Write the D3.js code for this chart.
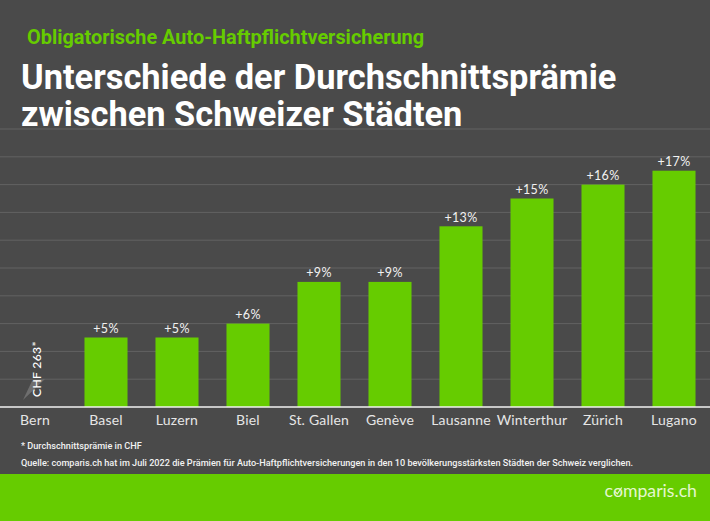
<!DOCTYPE html>
<html>
<head>
<meta charset="utf-8">
<script src="https://cdn.jsdelivr.net/npm/d3@7"></script>
<style>
  html, body { margin: 0; padding: 0; background: #4a4a4a; overflow: hidden; }
  svg { display: block; }
</style>
</head>
<body>
<script>
const cities = ["Bern", "Basel", "Luzern", "Biel", "St. Gallen", "Genève", "Lausanne", "Winterthur", "Zürich", "Lugano"];
const increases = [0, 5, 5, 6, 9, 9, 13, 15, 16, 17];
const barLabels = ["CHF 263*", "+5%", "+5%", "+6%", "+9%", "+9%", "+13%", "+15%", "+16%", "+17%"];
const gridValues = [2, 4, 6, 8, 10, 12, 14, 16, 18, 20];
const titleLines = ["Unterschiede der Durchschnittsprämie", "zwischen Schweizer Städten"];
const subtitle = "Obligatorische Auto-Haftpflichtversicherung";
const footnote = "* Durchschnittsprämie in CHF";
const source = "Quelle: comparis.ch hat im Juli 2022 die Prämien für Auto-Haftpflichtversicherungen in den 10 bevölkerungsstärksten Städten der Schweiz verglichen.";

const width = 710, height = 521;
const green = "#66cc00", bg = "#4a4a4a";
const labelFont = "Lato, sans-serif";

const svg = d3.select("body").append("svg")
    .attr("width", width)
    .attr("height", height);

svg.append("rect").attr("width", width).attr("height", height).attr("fill", bg);

const x = d3.scaleBand().domain(cities).range([-0.5, 709.5]).paddingInner(0.394).paddingOuter(0.197);
const y = d3.scaleLinear().domain([0, 20]).range([407, 129]);

// Grid lines
svg.append("g").selectAll("line")
    .data(gridValues)
    .join("line")
    .attr("x1", 0)
    .attr("x2", width)
    .attr("y1", d => y(d))
    .attr("y2", d => y(d))
    .attr("stroke", "#626262")
    .attr("stroke-width", 1);

// Bars
svg.append("g").selectAll("rect")
    .data(cities)
    .join("rect")
    .attr("x", d => x(d))
    .attr("y", (d, i) => y(increases[i]))
    .attr("width", x.bandwidth())
    .attr("height", (d, i) => y(0) - y(increases[i]))
    .attr("fill", green);

// Baseline
svg.append("line")
    .attr("x1", 0).attr("x2", width)
    .attr("y1", y(0)).attr("y2", y(0))
    .attr("stroke", "#f2f2f2")
    .attr("stroke-width", 1.5);

// Small grey marker behind the Bern label
const bernX = x("Bern") + x.bandwidth() / 2;
svg.append("path")
    .attr("d", `M${bernX - 12},${y(0) - 7} L${bernX - 3},${y(0) - 26} L${bernX + 10},${y(0) - 28} Z`)
    .attr("fill", "#6e6e6e");

// Value labels
svg.append("g").selectAll("text")
    .data(cities.slice(1))
    .join("text")
    .attr("x", d => x(d) + x.bandwidth() / 2)
    .attr("y", (d, i) => y(increases[i + 1]) - 4.5)
    .attr("text-anchor", "middle")
    .attr("fill", "#f2f2f2")
    .style("font-family", labelFont)
    .style("font-size", "12.5px")
    .style("letter-spacing", "0.3px")
    .text((d, i) => barLabels[i + 1]);

// Bern label is rotated
svg.append("text")
    .attr("transform", `translate(${bernX + 5.5},${y(0) - 10}) rotate(-90)`)
    .attr("fill", "#ffffff")
    .style("font-family", labelFont)
    .style("font-size", "12.2px")
    .style("font-weight", 500)
    .style("letter-spacing", "0.3px")
    .text(barLabels[0]);

// City labels
svg.append("g").selectAll("text")
    .data(cities)
    .join("text")
    .attr("x", d => x(d) + x.bandwidth() / 2)
    .attr("y", 425)
    .attr("text-anchor", "middle")
    .attr("fill", "#e6e6e6")
    .style("font-family", labelFont)
    .style("font-size", "14px")
    .style("letter-spacing", "0.2px")
    .text(d => d);

// Heading
svg.append("text")
    .attr("x", 27).attr("y", 44)
    .attr("fill", green)
    .style("font-family", "Roboto, sans-serif")
    .style("font-weight", "bold")
    .style("font-size", "19.9px")
    .text(subtitle);

svg.selectAll(".title")
    .data(titleLines)
    .join("text")
    .attr("class", "title")
    .attr("x", 21)
    .attr("y", (d, i) => 89 + i * 37)
    .attr("fill", "#ffffff")
    .style("font-family", "Roboto, sans-serif")
    .style("font-weight", "bold")
    .style("font-size", "34.4px")
    .text(d => d);

// Notes
svg.append("text")
    .attr("x", 21).attr("y", 448.5)
    .attr("fill", "#f2f2f2")
    .style("font-family", "Roboto, sans-serif")
    .style("font-weight", 500)
    .style("font-size", "9.15px")
    .text(footnote);

svg.append("text")
    .attr("x", 21).attr("y", 466)
    .attr("fill", "#f2f2f2")
    .style("font-family", "Roboto, sans-serif")
    .style("font-weight", 500)
    .style("font-size", "9.15px")
    .text(source);

// Footer band with logo
svg.append("rect")
    .attr("x", 0).attr("y", 474)
    .attr("width", width).attr("height", 47)
    .attr("fill", green);

const logo = svg.append("text")
    .attr("x", 697).attr("y", 497)
    .attr("text-anchor", "end")
    .attr("fill", "#e4f7cf")
    .style("font-family", labelFont)
    .style("font-size", "17.7px")
    .text("comparis.ch");

// Tick inside the logo's "o"
const oBox = logo.node().getExtentOfChar(1);
const oX = oBox.x + oBox.width / 2, oY = 491.5;
svg.append("path")
    .attr("d", `M${oX - 2.8},${oY} L${oX - 0.6},${oY + 2.4} L${oX + 3.8},${oY - 4}`)
    .attr("fill", "none")
    .attr("stroke", "#e4f7cf")
    .attr("stroke-width", 1.2);
</script>
</body>
</html>
